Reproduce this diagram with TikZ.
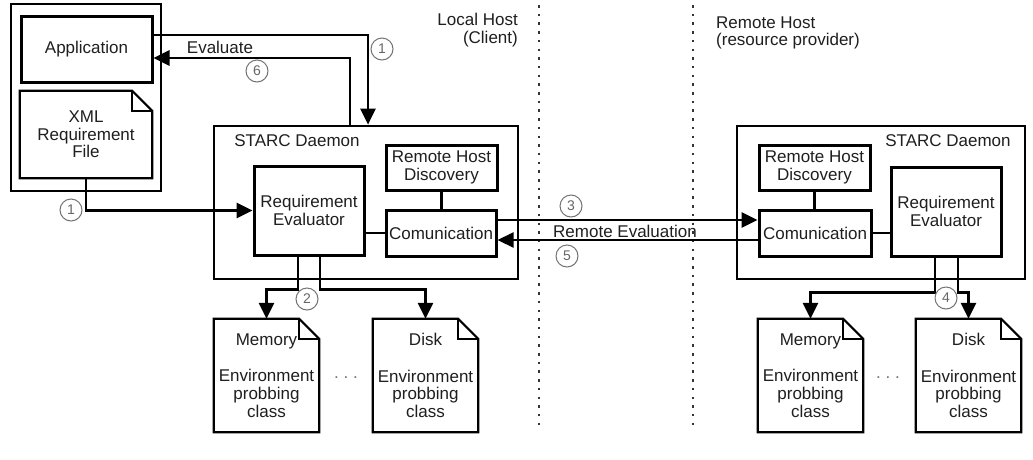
\documentclass[tikz,border=0pt]{standalone}
\usepackage{fontspec}
\setmainfont{Liberation Sans}
\usetikzlibrary{arrows.meta,calc}
\begin{document}
\begin{tikzpicture}[x=1pt,y=-1pt,
  every node/.style={font=\fontsize{17}{17.7}\selectfont, inner sep=0pt, align=center, text=black!88},
  box/.style={draw, line width=3pt},
  frame/.style={draw, line width=2.7pt},
  docline/.style={line width=2.2pt, line join=miter},
  arr/.style={line width=2.7pt, -{Triangle[length=16pt,width=15pt]}},
  thinarr/.style={line width=2.1pt, -{Triangle[length=16pt,width=15pt]}},
  link/.style={line width=2.4pt},
  num/.style={circle, draw=black!55, fill=white, line width=1pt, minimum size=22pt, text=black!60, font=\fontsize{14}{14}\selectfont},
  sep/.style={line width=2.3pt, dash pattern=on 2.5pt off 6.2pt, black!80},
]
\useasboundingbox (0,0) rectangle (1033,459);
\fill[white] (0,0) rectangle (1033,459);

% separators
\coordinate (s1a) at (539,5); \coordinate (s1b) at (539,431);
\coordinate (s2a) at (693,5); \coordinate (s2b) at (693,425);
\draw[sep] (s1a) -- (s1b);
\draw[sep] (s2a) -- (s2b);

% local side
\node[frame, minimum width=150pt, minimum height=187pt] (host) at (86,97.5) {};
\node[box, minimum width=131pt, minimum height=66pt] (app) at (86.5,49) {Application};
\node[minimum width=132pt, minimum height=87pt] (xml) at (86,134.5) {XML\\Requirement\\File};
\node[frame, minimum width=304pt, minimum height=153pt] (sdl) at (366,202.5) {};
\node (sdlt) at (297,141) {STARC Daemon};
\node[box, minimum width=111pt, minimum height=45pt] (rhdl) at (441.5,167.5) {Remote Host\\Discovery};
\node[box, minimum width=110pt, minimum height=89pt] (rel) at (309,210.5) {Requirement\\Evaluator};
\node[box, minimum width=110pt, minimum height=46pt] (coml) at (441,233) {Comunication};

% remote side
\node[frame, minimum width=288pt, minimum height=153pt] (sdr) at (881,202.5) {};
\node (sdrt) at (948,141) {STARC Daemon};
\node[box, minimum width=111pt, minimum height=45pt] (rhdr) at (814.5,167.5) {Remote Host\\Discovery};
\node[box, minimum width=112pt, minimum height=46pt] (comr) at (815,233) {Comunication};
\node[box, minimum width=110pt, minimum height=89pt] (rer) at (946,211.5) {Requirement\\Evaluator};

% probing classes
\node[minimum width=105pt, minimum height=113pt] (meml) at (266.5,375.5) {Memory\\[19pt]Environment\\probbing\\class};
\node[minimum width=105pt, minimum height=113pt] (diskl) at (425.5,375.5) {Disk\\[19pt]Environment\\probbing\\class};
\node[minimum width=105pt, minimum height=113pt] (memr) at (810.5,375.5) {Memory\\[19pt]Environment\\probbing\\class};
\node[minimum width=105pt, minimum height=113pt] (diskr) at (968.5,375.5) {Disk\\[19pt]Environment\\probbing\\class};

\foreach \n in {xml,meml,diskl,memr,diskr}{
  \draw[docline] (\n.north west) -- ([xshift=-20pt]\n.north east) -- ([yshift=-20pt]\n.north east) -- (\n.south east) -- (\n.south west) -- cycle;
  \draw[docline] ([xshift=-20pt]\n.north east) |- ([yshift=-20pt]\n.north east);
}

% connectors
\draw[arr] ([yshift=14pt]app.east) -| ([xshift=2pt]sdl.north);
\draw[arr] ([xshift=-16pt]sdl.north) |- ([yshift=-9pt]app.east);
\draw[arr] (xml.south) |- (rel.west);
\draw[arr] ([yshift=13pt]coml.east) -- ([yshift=13pt]comr.west);
\draw[thinarr] ([yshift=-7pt]comr.west) -- ([yshift=-7pt]coml.east);
\draw[link] (rhdl.south) -- (rhdl.south |- coml.north);
\draw[link] (coml.west) -- (coml.west -| rel.east);
\draw[link] (rhdr.south) -- (rhdr.south |- comr.north);
\draw[link] (comr.east) -- (comr.east -| rer.west);
\draw[arr] ([xshift=-11pt]rel.south) -- ++(0,33) -| (meml.north);
\draw[arr] ([xshift=11pt]rel.south) -- ++(0,33) -| (diskl.north);
\draw[arr] ([xshift=-11pt]rer.south) -- ++(0,35) -| (memr.north);
\draw[arr] ([xshift=12pt]rer.south) -- ++(0,35) -| (diskr.north);

% numbers
\node[num] (n1a) at (382,49) {1};
\node[num] (n6) at (257,71) {6};
\node[num] (n1b) at (71,210) {1};
\node[num] (n2) at (307,299) {2};
\node[num] (n3) at (571,206) {3};
\node[num] (n5) at (567,256) {5};
\node[num] (n4) at (946,298) {4};

% labels
\node (eval) at (220,47) {Evaluate};
\node (reval) at (625,231) {Remote Evaluation};
\node[anchor=east, align=right] (lh) at (518,30) {Local Host\\(Client)};
\node[anchor=west, align=left] (rh) at (716,33) {Remote Host\\(resource provider)};
\node[text=black!55] (d1) at (346,378) {.~.~.};
\node[text=black!55] (d2) at (888,378) {.~.~.};
\end{tikzpicture}
\end{document}
